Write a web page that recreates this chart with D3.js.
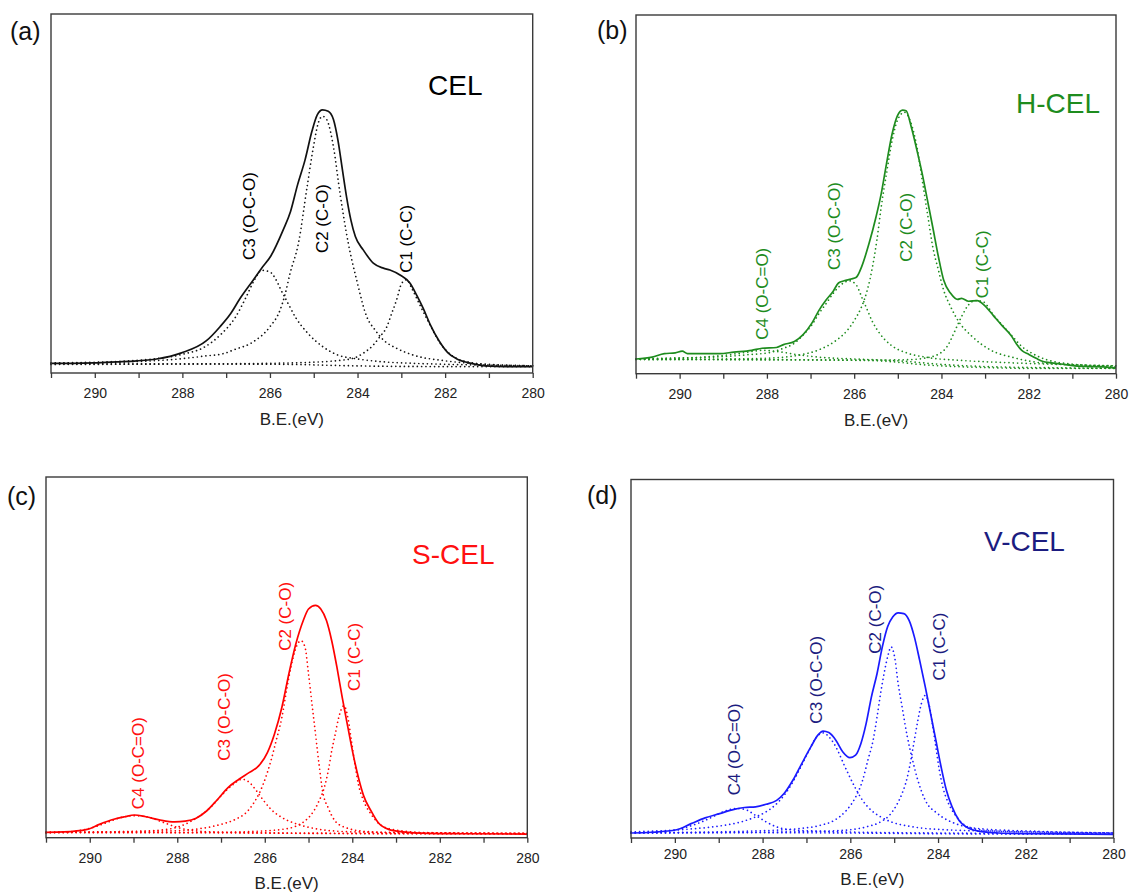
<!DOCTYPE html>
<html><head><meta charset="utf-8">
<script src="https://cdn.jsdelivr.net/npm/d3@7"></script>
<style>
body{margin:0;background:#fff}
svg{display:block}
text{font-family:"Liberation Sans",Arial,Helvetica,sans-serif}
</style>
</head><body>
<svg id="chart" width="1129" height="892"></svg>
<script>
// ---------------- DATA (binding energy eV, intensity a.u. 0-100 of frame) ----------------
const eVDomain = [291, 280];
const tickValues = [291, 290, 289, 288, 287, 286, 285, 284, 283, 282, 281, 280];
const tickLabels = ["290", "288", "286", "284", "282", "280"];
const axisTitle = "B.E.(eV)";

// (a) CEL
const envA = [[291.00,2.7],[290.50,2.7],[290.02,2.8],[289.50,3.1],[289.04,3.4],[288.59,3.9],[288.02,5.6],[287.45,9.0],[287.14,12.9],[286.90,16.5],[286.68,20.8],[286.38,25.9],[286.19,29.2],[285.98,32.6],[285.70,39.8],[285.53,45.0],[285.37,52.4],[285.20,59.3],[285.04,67.4],[284.92,71.9],[284.80,73.3],[284.67,72.9],[284.55,70.6],[284.45,65.0],[284.35,57.0],[284.25,49.0],[284.15,42.5],[284.05,38.0],[283.87,34.3],[283.64,30.6],[283.41,29.2],[283.26,28.7],[283.03,27.3],[282.80,25.0],[282.65,21.7],[282.50,18.0],[282.34,13.5],[282.14,9.0],[281.94,5.7],[281.73,3.9],[281.40,2.7],[281.08,2.0],[280.59,1.8],[280.00,1.8]];
const bgA = [[291,2.6],[287,2.5],[285.5,2.4],[284.5,2.1],[283.5,1.9],[282,1.8],[280,1.8]];
const c3A = [[291,2.8],[290,3.0],[289.2,3.4],[288.6,4.0],[288.0,5.2],[287.5,7.2],[287.1,11.0],[286.79,15.5],[286.55,21.0],[286.35,26.0],[286.19,28.6],[286.01,28.2],[285.67,21.3],[285.40,15.2],[285.13,11.0],[284.79,7.3],[284.45,5.0],[284.10,4.1],[283.5,3.2],[282.5,2.6],[281,2.2],[280,2.0]];
const c2A = [[291,2.7],[289,3.2],[288,4.0],[287.5,4.7],[287.03,5.5],[286.84,6.4],[286.38,8.7],[286.0,12.9],[285.77,17.5],[285.66,21.7],[285.54,27.8],[285.35,36.1],[285.15,52.0],[285.0,63.5],[284.9,69.5],[284.8,71.5],[284.7,70.5],[284.55,63.0],[284.4,50.0],[284.21,36.1],[284.02,25.9],[283.79,15.7],[283.6,12.0],[283.41,9.2],[283.11,6.9],[282.73,5.0],[282.0,3.4],[281,2.4],[280,2.0]];
const c1A = [[291,2.4],[288,2.5],[286,2.7],[285,3.0],[284.5,3.4],[284.10,4.1],[283.87,5.5],[283.64,7.8],[283.49,10.1],[283.33,12.9],[283.22,16.6],[283.11,20.3],[282.99,25.0],[282.88,26.0],[282.75,23.3],[282.55,18.3],[282.34,13.3],[282.14,8.8],[281.94,5.8],[281.73,4.0],[281.40,2.9],[281.0,2.3],[280,2.0]];

// (b) H-CEL
const envB = [[291.00,4.1],[290.63,4.6],[290.35,5.6],[290.10,5.8],[289.94,6.3],[289.82,5.6],[289.41,5.6],[289.09,5.6],[288.76,6.0],[288.35,6.5],[288.11,7.1],[287.78,7.3],[287.62,8.1],[287.37,9.0],[287.17,10.9],[286.97,14.1],[286.80,17.8],[286.64,20.6],[286.48,23.0],[286.36,25.3],[286.23,25.9],[286.07,26.4],[285.95,26.9],[285.83,29.8],[285.66,36.3],[285.50,43.7],[285.38,50.2],[285.26,58.5],[285.13,66.9],[285.01,71.9],[284.89,73.5],[284.81,73.3],[284.69,68.7],[284.56,62.2],[284.44,55.7],[284.32,48.3],[284.20,40.9],[284.07,32.6],[283.95,26.1],[283.79,22.4],[283.63,20.7],[283.54,21.0],[283.38,20.2],[283.18,20.4],[283.01,19.0],[282.81,16.2],[282.61,13.4],[282.40,10.6],[282.28,8.3],[282.16,6.5],[282.00,5.4],[281.83,4.3],[281.67,3.4],[281.51,3.1],[281.26,2.7],[280.94,2.2],[280.61,2.0],[280.29,1.9],[280.00,1.6]];
const bgB = [[291,4.0],[288,3.9],[286.5,3.8],[285.5,3.6],[285,3.2],[284.6,2.7],[284.2,2.3],[283.7,2.0],[283,1.7],[282,1.5],[280,1.5]];
const c4B = [[291,4.1],[290,4.3],[289.5,4.6],[289,5.1],[288.5,5.9],[288.1,6.5],[287.7,6.1],[287.3,5.3],[286.8,4.6],[286,4.1],[285,3.6],[284,2.6],[283,2.0],[281,1.6],[280,1.5]];
const c3B = [[291,4.1],[290.06,4.4],[289.25,4.6],[288.43,5.3],[287.94,5.9],[287.62,7.1],[287.37,8.5],[287.17,10.8],[286.97,13.6],[286.80,16.9],[286.64,19.6],[286.48,22.4],[286.31,24.7],[286.11,25.9],[285.95,24.7],[285.83,21.5],[285.70,17.8],[285.58,14.5],[285.42,11.3],[285.17,8.1],[284.77,5.7],[284.36,4.6],[283.54,3.7],[282.32,3.0],[280.0,2.2]];
const c2B = [[291,4.0],[289,4.1],[288,4.3],[287.62,4.6],[287.21,5.3],[286.80,6.7],[286.40,9.4],[286.15,12.2],[285.99,15.0],[285.83,18.7],[285.70,23.3],[285.58,29.8],[285.48,37.2],[285.38,46.5],[285.26,55.7],[285.13,65.0],[285.01,70.6],[284.85,72.9],[284.69,69.6],[284.56,63.1],[284.44,53.9],[284.32,44.6],[284.20,35.4],[284.07,28.9],[283.95,23.3],[283.79,18.7],[283.63,15.0],[283.30,10.4],[282.89,6.7],[282.32,4.4],[281.51,2.8],[280.0,2.2]];
const c1B = [[291,4.0],[287.6,3.9],[285.5,3.8],[284.77,3.9],[284.36,4.4],[284.03,5.7],[283.87,7.6],[283.75,10.4],[283.63,13.6],[283.54,15.9],[283.38,19.2],[283.22,20.4],[283.05,20.1],[282.81,16.4],[282.61,13.6],[282.40,10.8],[282.16,7.6],[281.91,5.6],[281.59,3.9],[281.10,2.8],[280.0,2.0]];

// (c) S-CEL
const envC = [[291,1.5],[290.59,1.6],[290.06,2.3],[289.78,3.7],[289.45,5.1],[289.20,5.8],[288.98,6.3],[288.72,5.8],[288.39,4.9],[288.06,4.4],[287.82,4.6],[287.57,5.4],[287.33,7.4],[287.08,10.6],[286.84,13.9],[286.59,16.2],[286.35,18.1],[286.14,19.9],[285.94,23.6],[285.78,28.7],[285.61,36.1],[285.45,45.4],[285.29,53.7],[285.12,60.2],[285.00,63.4],[284.84,64.4],[284.72,63.4],[284.59,60.2],[284.47,54.6],[284.35,47.2],[284.23,38.9],[284.10,30.6],[283.98,23.1],[283.86,16.7],[283.74,11.6],[283.57,7.4],[283.41,4.2],[283.17,2.3],[282.84,1.6],[282.27,1.2],[281.45,1.1],[280.0,1.0]];
const bgC = [[291,1.5],[288,1.4],[286,1.3],[285,1.2],[284,1.15],[282,1.1],[280,1.1]];
const c4C = [[291,1.4],[290.43,1.7],[290.02,2.5],[289.61,4.2],[289.29,5.6],[288.98,6.1],[288.63,5.6],[288.31,4.2],[287.98,2.8],[287.65,2.0],[287.16,1.6],[285.53,1.3],[280,1.1]];
const c3C = [[291,1.5],[289.20,1.7],[288.39,2.1],[287.98,3.0],[287.74,4.2],[287.49,6.0],[287.25,8.3],[287.00,11.6],[286.76,14.4],[286.51,16.2],[286.35,15.3],[286.19,13.0],[286.02,10.2],[285.86,7.9],[285.61,5.6],[285.29,3.9],[284.96,2.8],[284.55,2.0],[283.90,1.6],[280,1.2]];
const c2C = [[291,1.5],[288.14,1.9],[287.49,2.5],[287.00,3.7],[286.67,5.1],[286.43,6.9],[286.27,9.3],[286.10,13.0],[285.98,16.7],[285.86,21.3],[285.74,26.9],[285.61,33.3],[285.49,41.7],[285.37,49.1],[285.25,53.7],[285.17,54.6],[285.08,52.8],[285.00,45.4],[284.92,37.0],[284.84,28.7],[284.76,20.4],[284.68,13.0],[284.55,8.3],[284.39,4.6],[284.15,2.8],[283.66,1.7],[282.68,1.3],[280,1.2]];
const c1C = [[291,1.4],[287,1.5],[286.35,1.7],[285.61,2.3],[285.29,3.2],[285.04,5.1],[284.88,7.4],[284.76,10.2],[284.64,13.9],[284.55,18.5],[284.47,24.1],[284.39,28.7],[284.31,33.3],[284.19,36.6],[284.10,33.3],[284.02,26.9],[283.94,20.4],[283.86,14.8],[283.74,10.2],[283.57,6.5],[283.37,3.7],[283.08,2.3],[282.27,1.4],[280,1.2]];

// (d) V-CEL
const envD = [[291,1.4],[290.53,1.6],[289.96,2.3],[289.63,4.0],[289.31,5.6],[288.98,6.8],[288.65,8.0],[288.41,8.5],[288.16,8.7],[287.92,9.4],[287.68,10.5],[287.51,12.4],[287.31,16.1],[287.11,20.7],[286.90,25.4],[286.74,28.7],[286.62,29.8],[286.49,29.4],[286.33,27.3],[286.17,24.0],[286.01,22.4],[285.88,23.1],[285.76,26.3],[285.64,31.9],[285.52,39.3],[285.39,45.9],[285.27,53.3],[285.15,58.9],[285.03,61.7],[284.91,62.8],[284.78,62.6],[284.66,60.7],[284.54,56.1],[284.42,49.6],[284.29,42.1],[284.17,34.7],[284.05,27.3],[283.93,19.8],[283.81,13.3],[283.68,8.7],[283.52,4.9],[283.36,3.1],[283.11,2.0],[282.62,1.4],[281.81,1.2],[280,1.0]];
const bgD = [[291,1.5],[288,1.5],[286,1.4],[285,1.3],[284,1.2],[282,1.1],[280,1.1]];
const c4D = [[291,1.5],[290.53,1.7],[290.04,2.1],[289.71,3.1],[289.39,4.5],[289.14,5.9],[288.90,7.3],[288.61,8.2],[288.41,8.0],[288.16,6.3],[287.92,4.5],[287.68,3.1],[287.35,2.3],[286.70,1.9],[285.07,1.5],[280,1.2]];
const c3D = [[291,1.7],[290.36,2.0],[289.55,2.6],[288.90,3.5],[288.49,4.5],[288.16,5.9],[287.92,7.3],[287.72,9.1],[287.51,11.9],[287.31,15.6],[287.11,20.3],[286.94,24.5],[286.78,28.0],[286.62,29.3],[286.45,27.7],[286.29,24.5],[286.17,21.2],[286.05,18.0],[285.88,13.8],[285.72,10.5],[285.52,7.7],[285.31,5.9],[285.07,4.5],[284.66,3.3],[283.85,2.3],[282.62,1.9],[280,1.4]];
const c2D = [[291,1.4],[287.84,2.1],[287.19,2.6],[286.70,3.5],[286.37,4.9],[286.09,7.7],[285.88,11.4],[285.72,16.1],[285.60,21.7],[285.48,27.3],[285.39,33.8],[285.31,40.3],[285.23,45.9],[285.15,50.5],[285.07,53.3],[284.99,50.5],[284.91,43.1],[284.82,36.6],[284.70,28.2],[284.58,21.7],[284.46,16.1],[284.29,10.5],[284.01,6.8],[283.60,4.0],[283.03,2.6],[281.81,1.9],[280,1.4]];
const c1D = [[291,1.4],[287.51,1.7],[286.21,2.1],[285.64,3.1],[285.31,4.5],[285.11,6.3],[284.95,9.1],[284.82,12.4],[284.70,17.0],[284.62,21.7],[284.54,27.3],[284.46,32.8],[284.38,37.5],[284.29,39.8],[284.21,37.5],[284.13,31.9],[284.05,25.4],[283.97,18.9],[283.89,14.2],[283.76,9.6],[283.60,6.3],[283.44,4.0],[283.19,2.6],[282.62,1.9],[280,1.4]];

const panelLetters = ["(a)", "(b)", "(c)", "(d)"];
const sampleNames = ["CEL", "H-CEL", "S-CEL", "V-CEL"];
const peakNamesA = ["C3 (O-C-O)", "C2 (C-O)", "C1 (C-C)"];
const peakNamesBCD = ["C4 (O-C=O)", "C3 (O-C-O)", "C2 (C-O)", "C1 (C-C)"];

// ---------------- LAYOUT / STYLE ----------------
const panels = [
  {frame:[51,14,481.7,359], pad:10, titleDy:52, curve:"#111", text:"#000",
   env:envA, bg:bgA, comps:[c3A,c2A,c1A], names:peakNamesA,
   labelAt:[[286.47,31.5],[284.80,33.4],[282.88,27.9]],
   letterXY:[10,40], nameXY:[428,95]},
  {frame:[636,15,480,358.7], pad:10, titleDy:52, curve:"#1e8c1e", text:"#1e8c1e",
   env:envB, bg:bgB, comps:[c4B,c3B,c2B,c1B], names:peakNamesBCD,
   labelAt:[[288.11,9.45],[286.44,28.9],[284.81,31.2],[283.07,21.0]],
   letterXY:[597,39], nameXY:[1016,113]},
  {frame:[46,477,481.3,360.7], pad:10, titleDy:51, curve:"#ff0000", text:"#ff1010",
   env:envC, bg:bgC, comps:[c4C,c3C,c2C,c1C], names:peakNamesBCD,
   labelAt:[[288.88,7.9],[286.92,21.3],[285.53,51.8],[283.96,40.7]],
   letterXY:[7,505], nameXY:[412,564]},
  {frame:[631,479.5,482.5,358.5], pad:6, titleDy:47, curve:"#1a1aff", text:"#1c1c80",
   env:envD, bg:bgD, comps:[c4D,c3D,c2D,c1D], names:peakNamesBCD,
   labelAt:[[288.64,11.9],[286.78,31.9],[285.43,51.4],[283.97,43.9]],
   letterXY:[587,504], nameXY:[984,551]}
];

const svg = d3.select("#chart");

panels.forEach((P, i) => {
  const [fx, fy, fw, fh] = P.frame;
  const g = svg.append("g").attr("transform", `translate(${fx},${fy})`);
  const x = d3.scaleLinear().domain(eVDomain).range([0, fw]);
  const y = d3.scaleLinear().domain([0, 100]).range([fh, 0]);
  const line = d3.line().x(d => x(d[0])).y(d => y(d[1])).curve(d3.curveMonotoneX);

  // dotted background and fitted components
  [P.bg, ...P.comps].forEach(s => {
    g.append("path").datum(s).attr("d", line)
      .attr("fill", "none").attr("stroke", P.curve)
      .attr("stroke-width", 1.7).attr("stroke-linecap", "round")
      .attr("stroke-dasharray", "0.01 4.3");
  });
  // envelope
  g.append("path").datum(P.env).attr("d", line)
    .attr("fill", "none").attr("stroke", P.curve)
    .attr("stroke-width", 1.7).attr("stroke-linejoin", "round");

  // frame
  g.append("rect").attr("x", 0).attr("y", 0).attr("width", fw).attr("height", fh)
    .attr("fill", "none").attr("stroke", "#3a3a3a").attr("stroke-width", 1.4);

  // bottom axis
  const ax = d3.axisBottom(x).tickValues(tickValues).tickSize(5).tickSizeOuter(0)
    .tickPadding(P.pad)
    .tickFormat(d => tickLabels.includes(String(d)) ? String(d) : "");
  const axg = g.append("g").attr("transform", `translate(0,${fh})`).call(ax);
  axg.select(".domain").remove();
  axg.selectAll(".tick line").attr("stroke", "#3a3a3a").attr("stroke-width", 1.3);
  axg.selectAll(".tick text").attr("fill", "#222").style("font-size", "14px")
    .style("font-family", '"Liberation Sans",Arial,sans-serif');

  g.append("text").attr("x", fw / 2).attr("y", fh + P.titleDy)
    .attr("text-anchor", "middle").attr("fill", "#222").style("font-size", "17px")
    .text(axisTitle);

  // peak labels (rotated)
  P.labelAt.forEach((p, k) => {
    const lx = x(p[0]), ly = y(p[1]);
    g.append("text").attr("transform", `translate(${lx},${ly}) rotate(-90)`)
      .attr("text-anchor", "start").attr("dominant-baseline", "central")
      .attr("fill", P.text).style("font-size", "17px").text(P.names[k]);
  });

  // panel letter and sample name
  svg.append("text").attr("x", P.letterXY[0]).attr("y", P.letterXY[1])
    .attr("fill", "#111").style("font-size", "25px").text(panelLetters[i]);
  svg.append("text").attr("x", P.nameXY[0]).attr("y", P.nameXY[1])
    .attr("fill", P.text).style("font-size", "28px").text(sampleNames[i]);
});
</script>
</body></html>
